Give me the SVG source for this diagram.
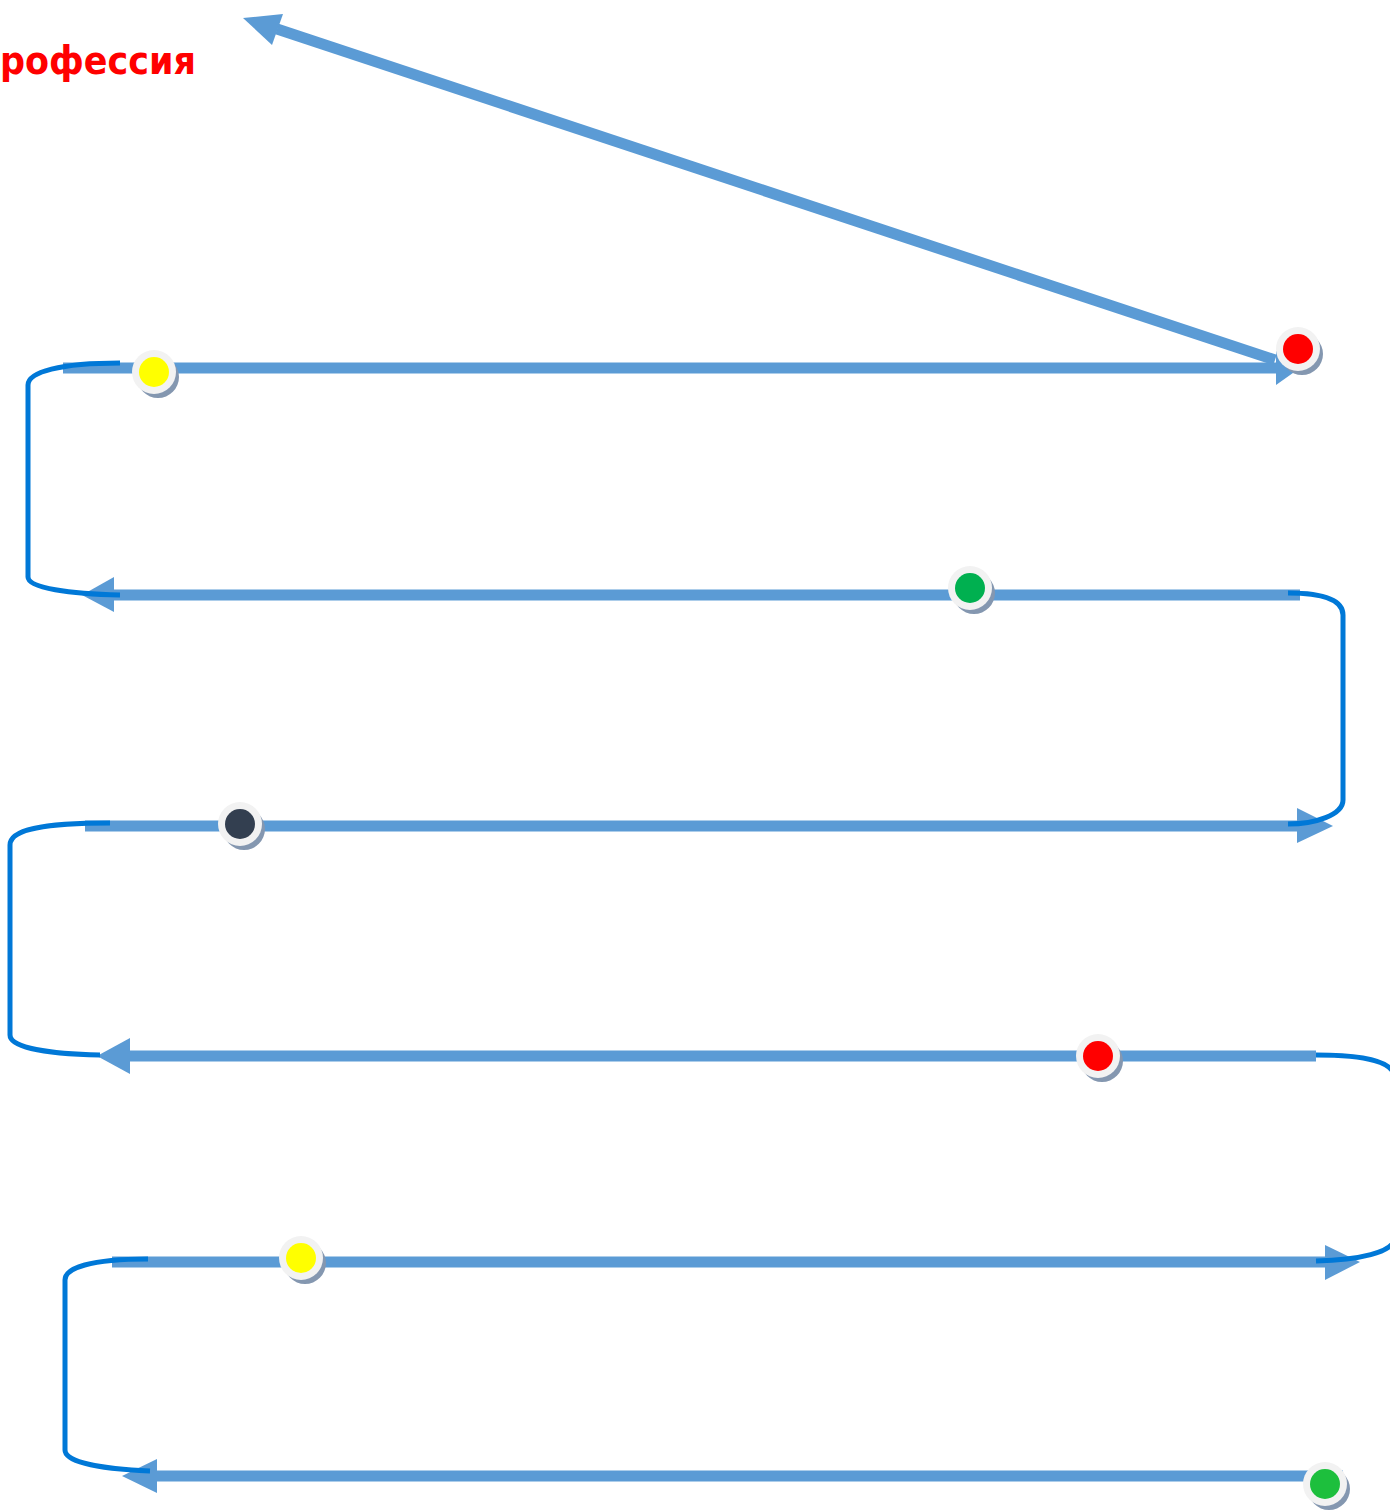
<svg xmlns="http://www.w3.org/2000/svg" width="1390" height="1510" viewBox="0 0 1390 1510">
<defs>
<style>
.band{stroke:#5B9BD5;stroke-width:11;fill:none}
.head{fill:#5B9BD5}
.loop{stroke:#0078D7;stroke-width:5;fill:none;stroke-linecap:butt}
.ring{fill:#F2F2F2}
.shadow{fill:#8497B0}
.title{font-family:"DejaVu Sans","Liberation Sans",sans-serif;font-weight:bold;font-size:39px;fill:#FF0000}
</style>
</defs>
<rect width="1390" height="1510" fill="#FFFFFF"/>
<text class="title" x="0" y="74" textLength="196" lengthAdjust="spacingAndGlyphs">рофессия</text>
<g id="connectors">
<line class="band" x1="1275" y1="360" x2="277" y2="29"/>
<polygon class="head" points="243,18 283,14 272,45"/>
<line class="band" x1="63" y1="368" x2="1280" y2="368"/>
<polygon class="head" points="1300,368 1276,351 1276,385"/>
<line class="band" x1="1300" y1="595" x2="110" y2="595"/>
<polygon class="head" points="82,595 114,577 114,612"/>
<line class="band" x1="85" y1="826" x2="1300" y2="826"/>
<polygon class="head" points="1333,826 1297,808 1297,843"/>
<line class="band" x1="1316" y1="1056" x2="125" y2="1056"/>
<polygon class="head" points="97,1056 130,1038 130,1074"/>
<line class="band" x1="112" y1="1262" x2="1330" y2="1262"/>
<polygon class="head" points="1360,1262 1325,1245 1325,1280"/>
<line class="band" x1="1343" y1="1476" x2="150" y2="1476"/>
<polygon class="head" points="122,1476 157,1459 157,1493"/>
<path class="loop" d="M120,363 C60,363 28,372 28,385 V577 C28,588 70,594 120,595"/>
<path class="loop" d="M1288,593 C1330,593 1343,603 1343,615 V800 C1343,815 1315,824 1288,824"/>
<path class="loop" d="M110,823 C40,823 10,830 10,845 V1035 C10,1048 50,1054 100,1055"/>
<path class="loop" d="M1316,1055 C1370,1055 1392,1063 1394,1075 V1240 C1392,1252 1360,1260 1316,1261"/>
<path class="loop" d="M148,1259 C90,1259 65,1268 65,1280 V1450 C65,1462 100,1469 150,1471"/>
</g>
<g id="dot-red-1"><circle class="shadow" cx="1302" cy="354" r="21"/><circle class="ring" cx="1298" cy="349" r="22"/><circle cx="1298" cy="349" r="15" fill="#FF0000"/></g>
<g id="dot-yellow-1"><circle class="shadow" cx="158" cy="377" r="21"/><circle class="ring" cx="154" cy="372" r="22"/><circle cx="154" cy="372" r="15" fill="#FFFF00"/></g>
<g id="dot-green-1"><circle class="shadow" cx="974" cy="593" r="21"/><circle class="ring" cx="970" cy="588" r="22"/><circle cx="970" cy="588" r="15" fill="#00B050"/></g>
<g id="dot-dark"><circle class="shadow" cx="244" cy="829" r="21"/><circle class="ring" cx="240" cy="824" r="22"/><circle cx="240" cy="824" r="15" fill="#333F50"/></g>
<g id="dot-red-2"><circle class="shadow" cx="1102" cy="1061" r="21"/><circle class="ring" cx="1098" cy="1056" r="22"/><circle cx="1098" cy="1056" r="15" fill="#FF0000"/></g>
<g id="dot-yellow-2"><circle class="shadow" cx="305" cy="1263" r="21"/><circle class="ring" cx="301" cy="1258" r="22"/><circle cx="301" cy="1258" r="15" fill="#FFFF00"/></g>
<g id="dot-green-2"><circle class="shadow" cx="1329" cy="1489" r="21"/><circle class="ring" cx="1325" cy="1484" r="22"/><circle cx="1325" cy="1484" r="15" fill="#1DBF3D"/></g>
</svg>
